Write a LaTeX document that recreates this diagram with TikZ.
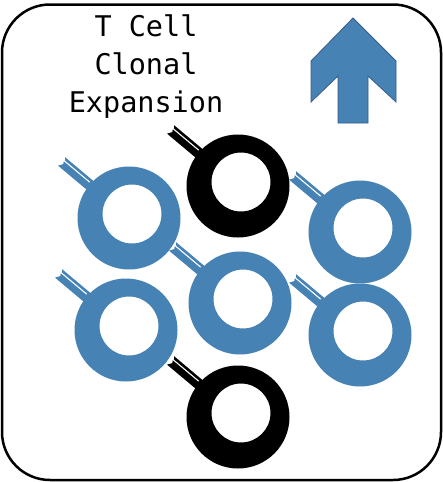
\documentclass[tikz,border=0pt]{standalone}
\usepackage{fontspec}
\setmonofont{DejaVu Sans Mono}
\definecolor{cellblue}{RGB}{70,130,180}
\definecolor{arrowedge}{RGB}{56,93,138}
\tikzset{
  titletext/.style={font=\ttfamily\fontsize{28.5}{38}\selectfont, anchor=base, inner sep=0pt},
  pics/tcell/.style={code={
    \begin{scope}[rotate=140]
      \fill[#1] (44,-5.5) -- (88,-5.5) -- (85,-1) -- (86.5,1.5) -- (53,1.5)
        -- (53,2.9) -- (86,2.9) -- (88,5.5) -- (44,5.5) -- cycle;
    \end{scope}
    \fill[#1,even odd rule] (0,0) circle[radius=51.5] (3,-4) circle[radius=29.5];
  }}
}
\begin{document}
\begin{tikzpicture}[x=1pt,y=-1pt]
\useasboundingbox (0,0) rectangle (443,482);
\fill[white] (0,0) rectangle (443,482);
% frame
\draw[line width=2.5pt, rounded corners=48pt] (2,4.5) rectangle (441,480);
% title
\node[titletext] (t1) at (146,36) {T Cell};
\node[titletext] (t2) at (146,74) {Clonal};
\node[titletext] (t3) at (146,112) {Expansion};
% up arrow
\draw[fill=cellblue, draw=arrowedge, line width=0.8pt]
  (353,18) -- (396,61) -- (396,102) -- (368,76) -- (368,123) -- (338,123)
  -- (338,76) -- (311,102) -- (311,61) -- cycle;
% cells
\pic (ca) at (129,218) {tcell=cellblue};
\pic (cb) at (238,186) {tcell=black};
\pic (cc) at (360,232) {tcell=cellblue};
\pic (cd) at (126,330) {tcell=cellblue};
\pic (ce) at (240,303) {tcell=cellblue};
\pic (cf) at (360,335) {tcell=cellblue};
\pic (cg) at (238,417) {tcell=black};
\end{tikzpicture}
\end{document}
